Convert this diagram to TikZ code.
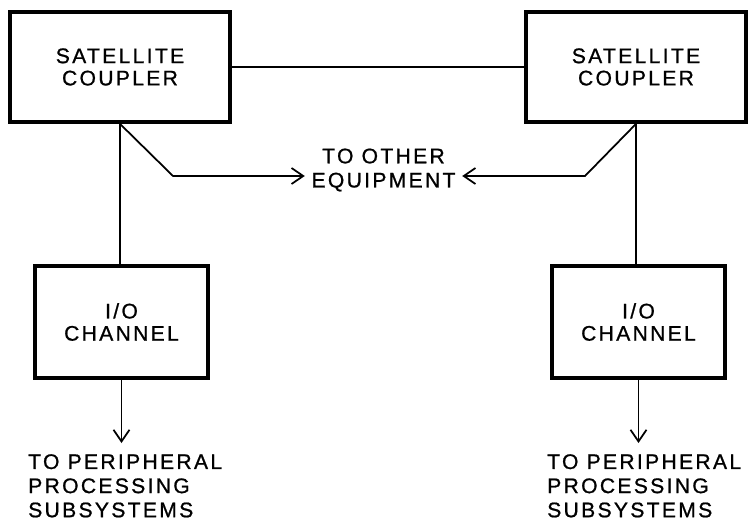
\documentclass[tikz,border=0pt]{standalone}
\usepackage{fontspec}
\setmainfont{Liberation Sans}[LetterSpace=11, FakeBold=0.9]
\usepackage{tikz}
\usetikzlibrary{positioning}
\usetikzlibrary{arrows.meta}

\begin{document}
\begin{tikzpicture}[
  x=0.03cm, y=0.03cm,
  unit/.style={rectangle, draw, line width=3.2pt, minimum width=6.6cm, minimum height=3.3cm, align=center, font=\fontsize{18}{19}\selectfont},
  chan/.style={unit, minimum width=5.2cm, minimum height=3.36cm},
  note/.style={inner sep=0pt, align=left, font=\fontsize{18}{20.6}\selectfont},
  link/.style={line width=1.5pt},
  arrow/.style={link, -{Straight Barb[length=3.5mm, width=4.8mm]}}
]
\useasboundingbox (0,0) rectangle (748,520);

% Nodes
\node[unit] (satL) at (120,453)   {SATELLITE\\COUPLER};
\node[unit] (satR) at (636,453)   {SATELLITE\\COUPLER};
\node[chan] (ioL)  at (121.5,198) {I/O\\CHANNEL};
\node[chan] (ioR)  at (638.5,198) {I/O\\CHANNEL};
\node[note, align=center, minimum width=4.71cm] (other) at (383.5,350) {TO OTHER\\EQUIPMENT};
\node[note, anchor=north west] (periL) at (28,66)  {TO PERIPHERAL\\PROCESSING\\SUBSYSTEMS};
\node[note, anchor=north west] (periR) at (547,66) {TO PERIPHERAL\\PROCESSING\\SUBSYSTEMS};

\coordinate (bendL) at (173,344);
\coordinate (bendR) at (585,344);

% Connectors
\draw[link] (satL.east) -- (satR.west);
\draw[link] (satL.south) -- (satL.south |- ioL.north);
\draw[link] (satR.south) -- (satR.south |- ioR.north);
\draw[arrow] (satL.south) -- (bendL) -- (other.west |- bendL);
\draw[arrow] (satR.south) -- (bendR) -- (other.east |- bendR);

% Outputs
\draw[arrow] (ioL.south) -- (ioL.south |- 0,77);
\draw[arrow] (ioR.south) -- (ioR.south |- 0,77);

\end{tikzpicture}
\end{document}
